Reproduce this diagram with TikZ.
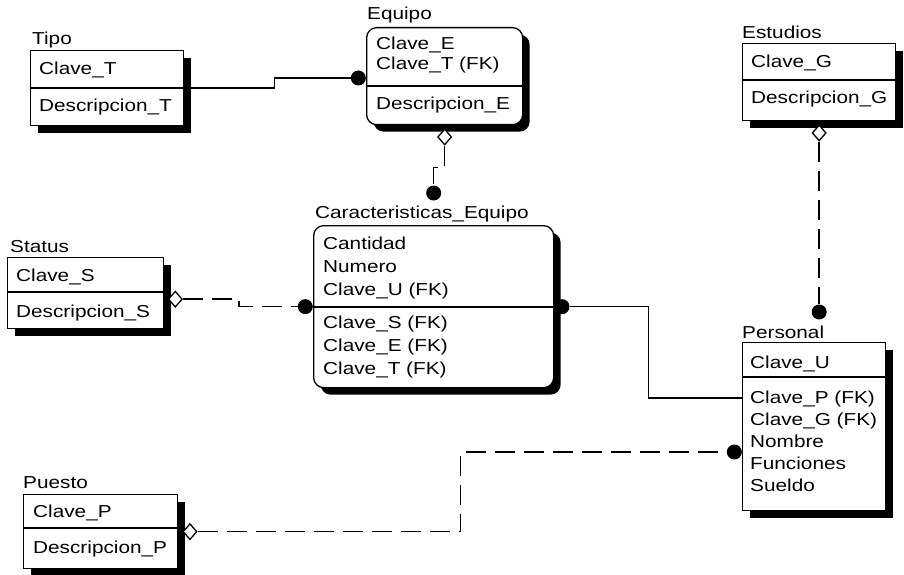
\documentclass[tikz,border=0pt]{standalone}
\usepackage{fontspec}
\setmainfont{Liberation Sans}[FakeStretch=1.2]
\usepackage{tikz}
\usetikzlibrary{positioning, calc, shadows, shapes.geometric}
\tikzset{
  >=latex,
  % Entidades
  entity/.style={draw,line width=1.3pt,fill=white,anchor=north west,inner sep=0,
    drop shadow={shadow xshift=7pt,shadow yshift=-7pt,opacity=1,fill=black}},
  entity round/.style={entity,rounded corners=10pt},
  ename/.style={anchor=base west,inner sep=0,font=\fontsize{17.3}{22}\selectfont},
  attr/.style={ename},
  divider/.style={line width=1.3pt},
  % Relaciones
  rel/.style={line width=1.5pt},
  nonid/.style={line width=1.5pt,dash pattern=on 20pt off 9pt},
  fkdot/.style={circle,fill=black,minimum size=15,inner sep=0},
  nulldia/.style={diamond,draw,fill=white,line width=1.3pt,minimum width=14,minimum height=16,inner sep=0}
}
\begin{document}
\begin{tikzpicture}[x=1pt,y=-1pt]
  \useasboundingbox (0,0) rectangle (904,575);
  % Tipo
  \node[entity, minimum width=153, minimum height=75] (tipo) at (30,50) {};
  \draw[divider] ([yshift=-38pt]tipo.north west) -- ([yshift=-38pt]tipo.north east);
  \node[ename] at ([shift={(2,-5)}]tipo.north west) {Tipo};
  \node[attr] at ([shift={(9,25)}]tipo.north west) {Clave\_T};
  \node[attr] at ([shift={(9,61)}]tipo.north west) {Descripcion\_T};
  % Equipo
  \node[entity round, minimum width=156, minimum height=97] (eq) at (366,27) {};
  \draw[divider] ([yshift=-59pt]eq.north west) -- ([yshift=-59pt]eq.north east);
  \node[ename] at ([shift={(1,-7)}]eq.north west) {Equipo};
  \node[attr] at ([shift={(10,23)}]eq.north west) {Clave\_E};
  \node[attr] at ([shift={(10,43)}]eq.north west) {Clave\_T (FK)};
  \node[attr] at ([shift={(10,83)}]eq.north west) {Descripcion\_E};
  % Estudios
  \node[entity, minimum width=153, minimum height=77] (est) at (742,43) {};
  \draw[divider] ([yshift=-37pt]est.north west) -- ([yshift=-37pt]est.north east);
  \node[ename] at ([shift={(0,-4)}]est.north west) {Estudios};
  \node[attr] at ([shift={(9,25)}]est.north west) {Clave\_G};
  \node[attr] at ([shift={(9,61)}]est.north west) {Descripcion\_G};
  % Status
  \node[entity, minimum width=156, minimum height=71] (status) at (7,257) {};
  \draw[divider] ([yshift=-35pt]status.north west) -- ([yshift=-35pt]status.north east);
  \node[ename] at ([shift={(3,-5)}]status.north west) {Status};
  \node[attr] at ([shift={(9,24)}]status.north west) {Clave\_S};
  \node[attr] at ([shift={(9,60)}]status.north west) {Descripcion\_S};
  % Caracteristicas_Equipo
  \node[entity round, minimum width=240, minimum height=162] (car) at (313,225) {};
  \draw[divider] ([yshift=-82pt]car.north west) -- ([yshift=-82pt]car.north east);
  \node[ename] at ([shift={(2,-7)}]car.north west) {Caracteristicas\_Equipo};
  \node[attr] at ([shift={(10,24)}]car.north west) {Cantidad};
  \node[attr] at ([shift={(10,47)}]car.north west) {Numero};
  \node[attr] at ([shift={(10,70)}]car.north west) {Clave\_U (FK)};
  \node[attr] at ([shift={(10,103)}]car.north west) {Clave\_S (FK)};
  \node[attr] at ([shift={(10,126)}]car.north west) {Clave\_E (FK)};
  \node[attr] at ([shift={(10,149)}]car.north west) {Clave\_T (FK)};
  % Personal
  \node[entity, minimum width=143, minimum height=168] (per) at (742,342) {};
  \draw[divider] ([yshift=-35pt]per.north west) -- ([yshift=-35pt]per.north east);
  \node[ename] at ([shift={(0,-4)}]per.north west) {Personal};
  \node[attr] at ([shift={(8,26)}]per.north west) {Clave\_U};
  \node[attr] at ([shift={(8,61)}]per.north west) {Clave\_P (FK)};
  \node[attr] at ([shift={(8,83)}]per.north west) {Clave\_G (FK)};
  \node[attr] at ([shift={(8,105)}]per.north west) {Nombre};
  \node[attr] at ([shift={(8,127)}]per.north west) {Funciones};
  \node[attr] at ([shift={(8,149)}]per.north west) {Sueldo};
  % Puesto
  \node[entity, minimum width=154, minimum height=74] (pue) at (23,494) {};
  \draw[divider] ([yshift=-34pt]pue.north west) -- ([yshift=-34pt]pue.north east);
  \node[ename] at ([shift={(0,-6)}]pue.north west) {Puesto};
  \node[attr] at ([shift={(10,23)}]pue.north west) {Clave\_P};
  \node[attr] at ([shift={(10,59)}]pue.north west) {Descripcion\_P};

  % extremos de las relaciones
  \node[fkdot, anchor=east] (d1) at ([yshift=-51pt]eq.north west) {};
  \node[nulldia, below=3pt of eq.south] (d2) {};
  \node[fkdot] (d3) at ([yshift=32pt]car.north) {};
  \node[nulldia] (d4) at ([shift={(11,6)}]status.east) {};
  \node[fkdot, left=0pt of car.west] (d5) {};
  \node[fkdot, right=0pt of car.east] (d6) {};
  \node[nulldia, below=3pt of est.south] (d7) {};
  \node[fkdot] (d8) at (est.south |- 0,312) {};
  \node[nulldia, right=4pt of pue.east] (d9) {};
  \node[fkdot, anchor=east] (d10) at ([yshift=-110pt]per.north west) {};

  % relaciones
  \draw[rel] (tipo.east) -- ++(90,0) |- (d1);
  \draw[nonid] (d2.south) -- ++(0,22) -| (d3);
  \draw[nonid] (d4.east) -- ++(56,0) |- (d5);
  \draw[rel] (d6.east) -- ++(79,0) |- ([yshift=-56pt]per.north west);
  \draw[nonid] (d7) -- (d8);
  \draw[nonid] (d9.east) -- ++(263,0) |- (d10);
\end{tikzpicture}
\end{document}
